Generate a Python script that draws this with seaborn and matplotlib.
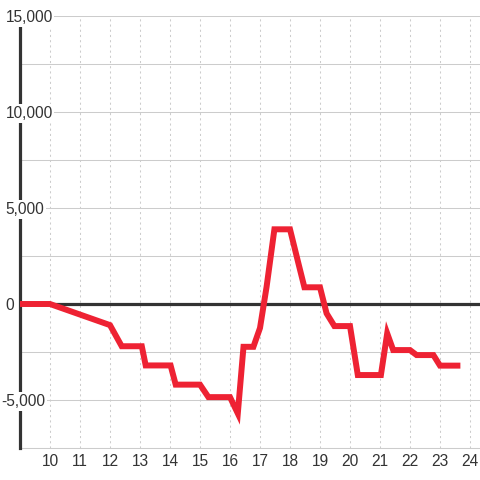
import matplotlib
matplotlib.use("Agg")
import matplotlib.pyplot as plt
import seaborn as sns
import pandas as pd
from matplotlib.transforms import ScaledTranslation

# ---- data ----
hours = [9.0, 10.0, 12.0, 12.39, 13.06, 13.19, 14.02, 14.19, 15.0, 15.28, 16.0,
         16.26, 16.45, 16.78, 17.0, 17.22, 17.48, 18.0, 18.28, 18.48, 19.0,
         19.22, 19.48, 20.0, 20.26, 21.03, 21.24, 21.44, 22.0, 22.22, 22.78,
         23.0, 23.58]
values = [0, 0, -1100, -2200, -2200, -3200, -3200, -4200, -4200, -4850, -4850,
          -5700, -2230, -2230, -1250, 900, 3890, 3890, 2120, 870, 870,
          -490, -1150, -1150, -3700, -3700, -1530, -2400, -2400, -2660, -2660,
          -3210, -3210]
xtick_values = list(range(10, 25))
xtick_labels = [str(v) for v in xtick_values]
ygrid_values = [-7500, -5000, -2500, 0, 2500, 5000, 7500, 10000, 12500, 15000]
ylabel_values = [-5000, 0, 5000, 10000, 15000]
ylabel_texts = ["-5,000", "0", "5,000", "10,000", "15,000"]

df = pd.DataFrame({"hour": hours, "value": values})

sns.set_style("white")
plt.rcParams["font.family"] = ["Liberation Sans", "DejaVu Sans"]

TXT = "#333333"
GRID = "#cccccc"
RED = "#ee2233"
FS = 11.2

fig = plt.figure(figsize=(4.8, 4.8), dpi=100)
fig.patch.set_facecolor("white")
ax = fig.add_axes([20 / 480, 32 / 480, 460 / 480, 432 / 480])
ax.set_facecolor("white")

sns.lineplot(data=df, x="hour", y="value", color=RED, linewidth=4.3, ax=ax,
             zorder=5, solid_joinstyle="miter", solid_capstyle="projecting")

ax.set_xlim(9, 9 + 460 / 30)
ax.set_ylim(-7500, 15000)

ax.set_xticks(xtick_values)
ax.set_xticklabels(xtick_labels)
ax.set_yticks(ygrid_values)
ax.tick_params(axis="x", length=0, pad=4.5, labelsize=FS, labelcolor=TXT)
ax.tick_params(axis="y", length=0, labelleft=False)
ax.set_xlabel("")
ax.set_ylabel("")

ax.grid(axis="y", color=GRID, linewidth=0.75, linestyle="-")
ax.grid(axis="x", color=GRID, linewidth=0.75, linestyle=(0, (2, 3)))
ax.set_axisbelow(True)

for s in ["top", "right"]:
    ax.spines[s].set_visible(False)
ax.spines["bottom"].set_color(GRID)
ax.spines["bottom"].set_linewidth(0.75)
ax.spines["left"].set_color(TXT)
ax.spines["left"].set_linewidth(2.3)
ax.spines["left"].set_zorder(2.6)

ax.axhline(0, color=TXT, linewidth=2.3, zorder=3)

ytrans = ax.get_yaxis_transform()
for v, t in zip(ylabel_values, ylabel_texts):
    dx = -18.5 if v < 0 else -14.5
    tr = ytrans + ScaledTranslation(dx / 100, -1.5 / 100, fig.dpi_scale_trans)
    ax.text(0, v, t, transform=tr, ha="left", va="center", fontsize=FS,
            color=TXT, zorder=4, clip_on=False,
            bbox=dict(boxstyle="square,pad=0.1", facecolor="white",
                      edgecolor="none"))

fig.savefig("out.png", dpi=100, facecolor="white")
